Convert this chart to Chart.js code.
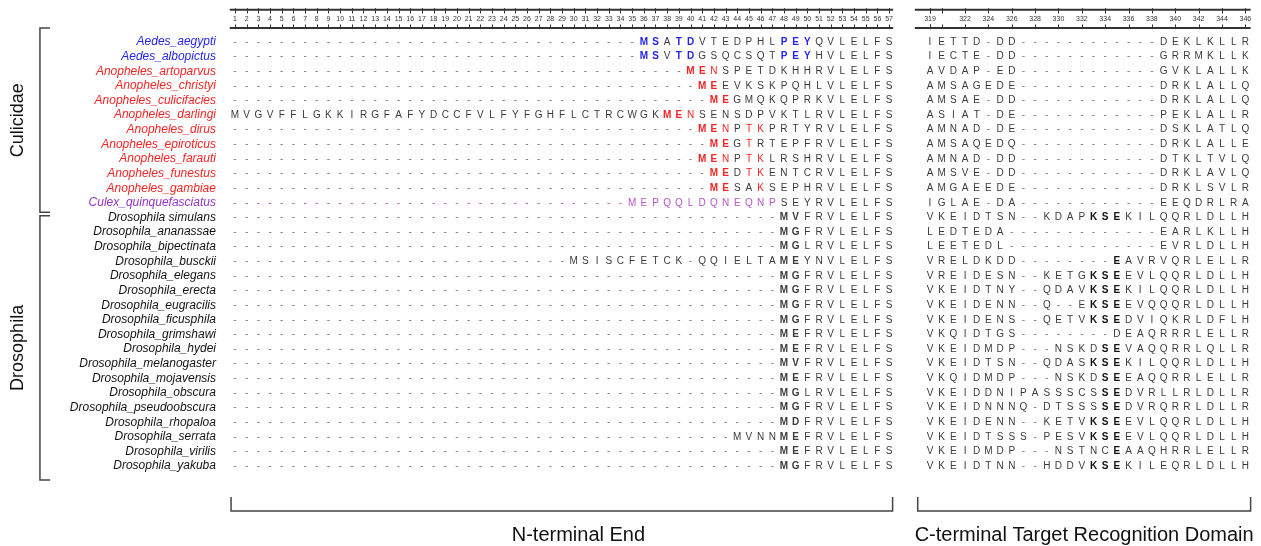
<!DOCTYPE html>
<html>
<head>
<meta charset="utf-8">
<script src="https://cdn.jsdelivr.net/npm/chart.js@4.4.1/dist/chart.umd.min.js"></script>
<style>
html, body { margin: 0; padding: 0; background: #fff; }
#wrap { width: 1261px; height: 546px; position: relative; }
</style>
</head>
<body>
<div id="wrap"><canvas id="myChart"></canvas></div>
<script>
var species = ['Aedes_aegypti', 'Aedes_albopictus', 'Anopheles_artoparvus', 'Anopheles_christyi',
    'Anopheles_culicifacies', 'Anopheles_darlingi', 'Anopheles_dirus', 'Anopheles_epiroticus',
    'Anopheles_farauti', 'Anopheles_funestus', 'Anopheles_gambiae', 'Culex_quinquefasciatus',
    'Drosophila simulans', 'Drosophila_ananassae', 'Drosophila_bipectinata', 'Drosophila_busckii',
    'Drosophila_elegans', 'Drosophila_erecta', 'Drosophila_eugracilis', 'Drosophila_ficusphila',
    'Drosophila_grimshawi', 'Drosophila_hydei', 'Drosophila_melanogaster', 'Drosophila_mojavensis',
    'Drosophila_obscura', 'Drosophila_pseudoobscura', 'Drosophila_rhopaloa', 'Drosophila_serrata',
    'Drosophila_virilis', 'Drosophila_yakuba'];

var genus = ['aedes', 'aedes', 'anopheles', 'anopheles', 'anopheles', 'anopheles', 'anopheles',
    'anopheles', 'anopheles', 'anopheles', 'anopheles', 'culex',
    'dros', 'dros', 'dros', 'dros', 'dros', 'dros', 'dros', 'dros', 'dros', 'dros', 'dros',
    'dros', 'dros', 'dros', 'dros', 'dros', 'dros', 'dros'];

var groups = ['Culicidae', 'Drosophila'];

// N-terminal: first aligned column and residues from there to column 57
var nStart = [36, 36, 40, 41, 42, 1, 41, 42, 41, 42, 42, 35,
    48, 48, 48, 30, 48, 48, 48, 48, 48, 48, 48, 48, 48, 48, 48, 44, 48, 48];
var nResidues = ['MSATDVTEDPHLPEYQVLELFS', 'MSVTDGSQCSQTPEYHVLELFS', 'MENSPETDKHHRVLELFS',
    'MEEVKSKPQHLVLELFS', 'MEGMQKQPRKVLELFS',
    'MVGVFFLGKKIRGFAFYDCCFVLFYFGHFLCTRCWGKMENSENSDPVKTLRVLELFS',
    'MENPTKPRTYRVLELFS', 'MEGTRTEPFRVLELFS', 'MENPTKLRSHRVLELFS', 'MEDTKENTCRVLELFS',
    'MESAKSEPHRVLELFS', 'MEPQQLDQNEQNPSEYRVLELFS',
    'MVFRVLELFS', 'MGFRVLELFS', 'MGLRVLELFS', 'MSISCFETCK-QQIELTAMEYNVLELFS', 'MGFRVLELFS',
    'MGFRVLELFS', 'MGFRVLELFS', 'MGFRVLELFS', 'MEFRVLELFS', 'MEFRVLELFS', 'MVFRVLELFS',
    'MEFRVLELFS', 'MGLRVLELFS', 'MGFRVLELFS', 'MDFRVLELFS', 'MVNNMEFRVLELFS', 'MEFRVLELFS',
    'MGFRVLELFS'];

// columns shown in the genus colour / in bold
var nColoured = [[36, 37, 39, 40, 48, 49, 50], [36, 37, 39, 40, 48, 49, 50], [40, 41, 42], [41, 42],
    [42, 43], [38, 39, 40], [41, 42, 43, 45, 46], [42, 43, 45], [41, 42, 43, 45, 46], [42, 43, 45, 46],
    [42, 43, 46], [1, 2, 3, 4, 5, 6, 7, 8, 9, 10, 11, 12, 13, 14, 15, 16, 17, 18, 19, 20, 21, 22, 23, 24,
    25, 26, 27, 28, 29, 30, 31, 32, 33, 34, 35, 36, 37, 38, 39, 40, 41, 42, 43, 44, 45, 46, 47]];
var nBold = [[36, 37, 39, 40, 48, 49, 50], [36, 37, 39, 40, 48, 49, 50], [40, 41], [41, 42], [42, 43],
    [38, 39], [41, 42], [42, 43], [41, 42], [42, 43], [42, 43], [],
    [48, 49], [48, 49], [48, 49], [48, 49], [48, 49], [48, 49], [48, 49], [48, 49], [48, 49], [48, 49],
    [48, 49], [48, 49], [48, 49], [48, 49], [48, 49], [48, 49], [48, 49], [48, 49]];

// C-terminal target recognition domain, positions 319-346
var cTerm = ['IETTD-DD------------DEKLKLLR', 'IECTE-DD------------GRRMKLLK',
    'AVDAP-ED------------GVKLALLK', 'AMSAGEDE------------DRKLALLQ', 'AMSAE-DD------------DRKLALLQ',
    'ASIAT-DE------------PEKLALLR', 'AMNAD-DE------------DSKLATLQ', 'AMSAQEDQ------------DRKLALLE',
    'AMNAD-DD------------DTKLTVLQ', 'AMSVE-DD------------DRKLAVLQ', 'AMGAEEDE------------DRKLSVLR',
    'IGLAE-DA------------EEQDRLRA',
    'VKEIDTSN--KDAPKSEKILQQRLDLLH', 'LEDTEDA-------------EARLKLLH', 'LEETEDL-------------EVRLDLLH',
    'VRELDKDD--------EAVRVQRLELLR', 'VREIDESN--KETGKSEEVLQQRLDLLH', 'VKEIDTNY--QDAVKSEKILQQRLDLLH',
    'VKEIDENN--Q--EKSEEVQQQRLDLLH', 'VKEIDENS--QETVKSEDVIQKRLDFLH', 'VKQIDTGS--------DEAQRRRLELLR',
    'VKEIDMDP---NSKDSEVAQQRRLQLLR', 'VKEIDTSN--QDASKSEKILQQRLDLLH', 'VKQIDMDP---NSKDSEEAQQRRLELLR',
    'VKEIDDNIPASSSCSSEDVRLLRLDLLR', 'VKEIDNNNQ-DTSSSSEDVRQRRLDLLR', 'VKEIDENN--KETVKSEEVLQQRLDLLH',
    'VKEIDTSSS-PESVKSEEVLQQRLDLLH', 'VKEIDMDP---NSTNCEAAQHRRLELLR', 'VKEIDTNN--HDDVKSEKILEQRLDLLH'];
var cBold = [[], [], [], [], [], [], [], [], [], [], [], [],
    [15, 16, 17], [], [], [17], [15, 16, 17], [15, 16, 17], [15, 16, 17], [15, 16, 17], [],
    [16, 17], [15, 16, 17], [16, 17], [16, 17], [16, 17], [15, 16, 17], [15, 16, 17], [17], [15, 16, 17]];

var nTicks = [];
for (var k = 1; k <= 57; k++) nTicks.push(k);
var cTickLabels = [319, 322, 324, 326, 328, 330, 332, 334, 336, 338, 340, 342, 344, 346];

var regionLabels = ['N-terminal End', 'C-terminal Target Recognition Domain'];

// layout helpers (column -> x value on the shared linear scale)
var C_SHIFT = 59.5;
var nameX = -0.63;
var rulerY = -0.57;

var nameColor = { aedes: '#2424ee', anopheles: '#f42424', culex: '#9434c4', dros: '#111' };
var seqColor = { aedes: '#2424ee', anopheles: '#f42424', culex: '#b654c8', dros: '#333' };

var FONT = "'Liberation Sans', Arial, sans-serif";

var nPts = [], cPts = [], namePts = [], rulerPts = [];
for (var r = 0; r < species.length; r++) {
    var row = r + 1;
    for (var col = 1; col <= 57; col++) {
        var ch = col < nStart[r] ? '-' : nResidues[r].charAt(col - nStart[r]);
        var coloured = nColoured[r] && nColoured[r].indexOf(col) >= 0;
        nPts.push({
            x: col, y: row, t: ch,
            c: coloured ? seqColor[genus[r]] : (ch == '-' ? '#7a7a7a' : '#3a3a3a'),
            b: nBold[r].indexOf(col) >= 0
        });
    }
    for (var j = 0; j < cTerm[r].length; j++) {
        var ch2 = cTerm[r].charAt(j);
        cPts.push({
            x: C_SHIFT + j + 1, y: row, t: ch2,
            c: ch2 == '-' ? '#7a7a7a' : (cBold[r].indexOf(j + 1) >= 0 ? '#111' : '#3a3a3a'),
            b: cBold[r].indexOf(j + 1) >= 0
        });
    }
    namePts.push({ x: nameX, y: row, t: species[r], c: nameColor[genus[r]] });
}
for (var i = 0; i < nTicks.length; i++) rulerPts.push({ x: nTicks[i], y: rulerY, t: String(nTicks[i]) });
for (var i = 0; i < cTickLabels.length; i++) rulerPts.push({ x: C_SHIFT + cTickLabels[i] - 318, y: rulerY, t: String(cTickLabels[i]) });

var ctx = document.getElementById('myChart').getContext('2d');

var textPlugin = {
    id: 'alignmentText',
    afterDatasetsDraw: function(chart) {
        var c = chart.ctx;
        var xs = chart.scales.x, ys = chart.scales.y;
        var X = function(v) { return xs.getPixelForValue(v); };
        var Y = function(v) { return ys.getPixelForValue(v); };
        c.save();

        // rulers
        c.strokeStyle = '#333';
        var rulers = [[0.55, 57.35, nTicks.map(function(v) { return v; })],
            [C_SHIFT - 0.3, C_SHIFT + 28.45, [1, 2].concat(cTickLabels.map(function(v) { return v - 318; })).map(function(v) { return C_SHIFT + v; })]];
        rulers.forEach(function(rr) {
            c.lineWidth = 2;
            [-1.2, 0.05].forEach(function(yy) {
                c.beginPath(); c.moveTo(X(rr[0]), Y(yy)); c.lineTo(X(rr[1]), Y(yy)); c.stroke();
            });
            c.lineWidth = 1;
            rr[2].forEach(function(tx) {
                var px = Math.round(X(tx)) + 0.5;
                c.beginPath(); c.moveTo(px, Y(-1.32)); c.lineTo(px, Y(-0.95)); c.stroke();
                c.beginPath(); c.moveTo(px, Y(-0.2)); c.lineTo(px, Y(0.12)); c.stroke();
            });
        });

        // group brackets + labels
        c.lineWidth = 1.5;
        c.strokeStyle = '#444';
        var gb = [[0.04, 12.65], [12.88, 30.96]];
        gb.forEach(function(g, gi) {
            c.beginPath();
            c.moveTo(X(-14.84), Y(g[0])); c.lineTo(X(-15.7), Y(g[0]));
            c.lineTo(X(-15.7), Y(g[1])); c.lineTo(X(-14.84), Y(g[1]));
            c.stroke();
            c.save();
            c.translate(X(-17.55), Y((g[0] + g[1]) / 2));
            c.rotate(-Math.PI / 2);
            c.fillStyle = '#111';
            c.font = '18px ' + FONT;
            c.textAlign = 'center'; c.textBaseline = 'middle';
            c.fillText(groups[gi], 0, 0);
            c.restore();
        });

        // bottom brackets + labels
        var bb = [[0.66, 57.3, 30.4], [C_SHIFT - 0.05, C_SHIFT + 28.45, C_SHIFT + 14.2]];
        bb.forEach(function(b, bi) {
            c.beginPath();
            c.moveTo(X(b[0]), Y(32.12)); c.lineTo(X(b[0]), Y(33.08));
            c.lineTo(X(b[1]), Y(33.08)); c.lineTo(X(b[1]), Y(32.12));
            c.stroke();
            c.fillStyle = '#111';
            c.font = '20px ' + FONT;
            c.textAlign = 'center'; c.textBaseline = 'middle';
            c.fillText(regionLabels[bi], X(b[2]), Y(34.72));
        });

        // dataset texts
        chart.data.datasets.forEach(function(ds, di) {
            var meta = chart.getDatasetMeta(di);
            c.textAlign = ds.textAlign;
            c.textBaseline = 'middle';
            meta.data.forEach(function(el, k) {
                var d = ds.data[k];
                c.font = (d.b ? 'bold ' : '') + ds.textFont;
                c.fillStyle = d.c || ds.textColor;
                c.fillText(d.t, el.x, el.y);
            });
        });
        c.restore();
    }
};

var config = new Chart(ctx, {
    type: 'scatter',
    data: {
        datasets: [
            { label: 'N-terminal', data: nPts, pointRadius: 0, textFont: '10px ' + FONT, textAlign: 'center' },
            { label: 'C-terminal', data: cPts, pointRadius: 0, textFont: '10px ' + FONT, textAlign: 'center' },
            { label: 'species', data: namePts, pointRadius: 0, textFont: 'italic 12px ' + FONT, textAlign: 'right' },
            { label: 'ruler', data: rulerPts, pointRadius: 0, textFont: '7px ' + FONT, textAlign: 'center', textColor: '#333' }
        ]
    },
    options: {
        responsive: true,
        maintainAspectRatio: false,
        animation: false,
        events: [],
        layout: { padding: 0 },
        plugins: { legend: { display: false }, tooltip: { enabled: false } },
        scales: {
            x: { type: 'linear', min: -19.12, max: 88.84, display: false },
            y: { type: 'linear', min: -1.873, max: 35.47, reverse: true, display: false }
        }
    },
    plugins: [textPlugin]
});
</script>
</body>
</html>
